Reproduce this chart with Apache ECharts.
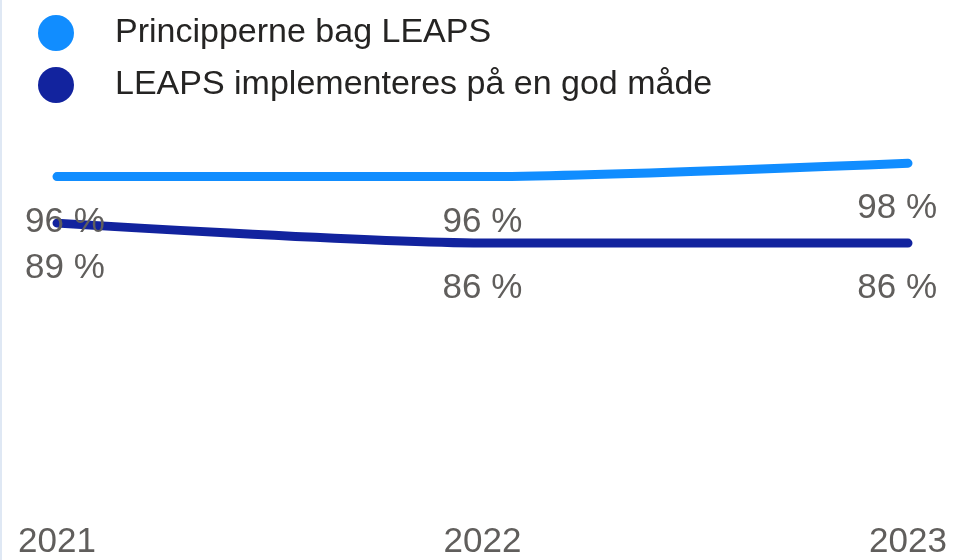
<!DOCTYPE html>
<html>
<head>
<meta charset="utf-8">
<script src="https://cdn.jsdelivr.net/npm/echarts@6/dist/echarts.min.js"></script>
<style>
  html, body { margin: 0; padding: 0; background: #fff; }
  #wrap { width: 953px; height: 560px; box-sizing: border-box; border-left: 2px solid #dfe8f4; }
  #main { width: 951px; height: 560px; }
</style>
</head>
<body>
<div id="wrap"><div id="main"></div></div>
<script>
var years = ['2021', '2022', '2023'];
var seriesNames = ['Principperne bag LEAPS', 'LEAPS implementeres på en god måde'];
var principperne = [96, 96, 98];
var implementeres = [89, 86, 86];

var labelColor = '#605e5c';
var lightBlue = '#118dff';
var darkBlue = '#12239e';

var myChart = echarts.init(document.getElementById('main'));

function lineSeries(name, data, color) {
  return {
    name: name,
    type: 'line',
    data: data,
    smooth: 0.25,
    showSymbol: true,
    symbol: 'circle',
    symbolSize: 0,
    lineStyle: { width: 9, color: color, cap: 'round', join: 'round' },
    itemStyle: { color: color },
    label: {
      show: true,
      position: 'bottom',
      distance: 28,
      color: labelColor,
      fontSize: 35,
      fontFamily: 'Liberation Sans, Arial, sans-serif',
      formatter: function (p) { return Math.round(p.value) + ' %'; }
    },
    labelLayout: function (params) {
      // keep labels inside the visual, like the original does at the edges
      var r = params.labelRect;
      var minX = 23, maxX = 935;
      var dx = 0;
      if (r.x < minX) dx = minX - r.x;
      if (r.x + r.width > maxX) dx = maxX - (r.x + r.width);
      return { dx: dx };
    },
    emphasis: { disabled: true }
  };
}

var option = {
  animation: false,
  legend: {
    data: seriesNames,
    orient: 'vertical',
    left: 31,
    top: 10,
    icon: 'circle',
    itemWidth: 36,
    itemHeight: 36,
    itemGap: 16,
    textStyle: {
      color: '#252423',
      fontSize: 34,
      fontFamily: 'Liberation Sans, Arial, sans-serif',
      padding: [0, 0, 0, 36]
    }
  },
  grid: {
    left: 55,
    right: 45,
    top: 150,
    bottom: 32
  },
  xAxis: {
    type: 'category',
    data: years,
    boundaryGap: false,
    axisLine: { show: false },
    axisTick: { show: false },
    axisLabel: {
      color: labelColor,
      fontSize: 35,
      fontFamily: 'Liberation Sans, Arial, sans-serif',
      margin: 16
    }
  },
  yAxis: {
    type: 'value',
    min: 46,
    max: 100,
    show: false,
    splitLine: { show: false }
  },
  series: [
    lineSeries(seriesNames[0], principperne, lightBlue),
    lineSeries(seriesNames[1], implementeres, darkBlue)
  ]
};

myChart.setOption(option);
</script>
</body>
</html>
